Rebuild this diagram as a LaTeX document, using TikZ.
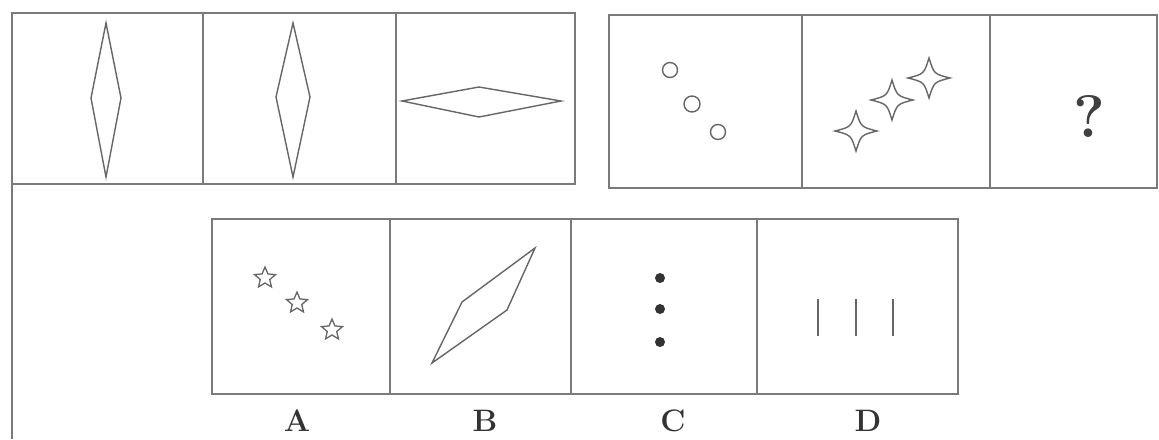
\documentclass[tikz,border=0pt]{standalone}
\usetikzlibrary{shapes.geometric}
\definecolor{frame}{gray}{0.48}
\definecolor{ink}{gray}{0.40}
\tikzset{
  box/.style={draw=frame, line width=1.4pt},
  fig/.style={draw=ink, line width=1.4pt, line join=miter},
  lab/.style={font=\fontsize{31}{31}\selectfont\bfseries, text=black!80},
  starA/.style={star, star points=5, star point ratio=2.2, draw=ink, line width=1.3pt, minimum size=22pt, inner sep=0pt},
  dotC/.style={fill=black!80, draw=none}
}
\newcommand{\fourstar}[2]{% x y
  \draw[fig] (#1+21,#2) .. controls (#1+5,#2+4) .. (#1,#2+20)
     .. controls (#1-5,#2+4) .. (#1-21,#2)
     .. controls (#1-5,#2-4) .. (#1,#2-20)
     .. controls (#1+5,#2-4) .. cycle;}
\begin{document}
\begin{tikzpicture}[x=1pt,y=-1pt]
\useasboundingbox (0,0) rectangle (1159,439);
\fill[white] (0,0) rectangle (1159,439);
% left outer line
\draw[frame, line width=1.2pt] (12,13) -- (12,439);
% top-left set
\draw[box] (12,13) rectangle (575,184);
\draw[box] (203,13) -- (203,184);
\draw[box] (396,13) -- (396,184);
\draw[fig] (106,23) -- (121,98) -- (106,177) -- (91,98) -- cycle;
\draw[fig] (293,23) -- (310,97) -- (293,177) -- (276,97) -- cycle;
\draw[fig] (402,101) -- (479,87) -- (561,101) -- (479,117) -- cycle;
% top-right set
\draw[box] (609,15) rectangle (1157,188);
\draw[box] (802,15) -- (802,188);
\draw[box] (990,15) -- (990,188);
\draw[fig] (670,70) circle (7.5);
\draw[fig] (692,104) circle (8);
\draw[fig] (718,132) circle (7.5);
\fourstar{856}{131}
\fourstar{892}{100}
\fourstar{929}{78}
\node[font=\fontsize{60}{60}\selectfont\bfseries, text=black!75] (q) at (1089,116) {?};
% answer set
\draw[box] (212,219) rectangle (958,394);
\draw[box] (390,219) -- (390,394);
\draw[box] (571,219) -- (571,394);
\draw[box] (757,219) -- (757,394);
\node[starA] (sa1) at (265,278) {};
\node[starA] (sa2) at (297,303) {};
\node[starA] (sa3) at (332,330) {};
\draw[fig] (432,363) -- (462,302) -- (535,248) -- (507,310) -- cycle;
\fill[dotC] (660,278) circle (5);
\fill[dotC] (660,309) circle (5);
\fill[dotC] (660,342) circle (5);
\draw[fig] (818,299) -- (818,336);
\draw[fig] (856,299) -- (856,336);
\draw[fig] (893,299) -- (893,336);
\node[lab] (A) at (297,421) {A};
\node[lab] (B) at (485,421) {B};
\node[lab] (C) at (673,421) {C};
\node[lab] (D) at (868,421) {D};
\end{tikzpicture}
\end{document}
